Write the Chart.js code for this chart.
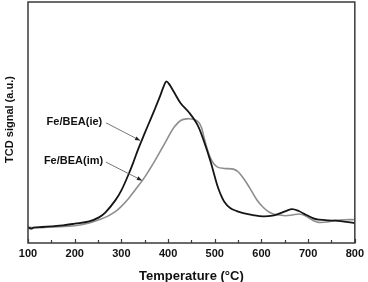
<!DOCTYPE html>
<html>
<head>
<meta charset="utf-8">
<script src="https://cdn.jsdelivr.net/npm/chart.js@4.4.1/dist/chart.umd.min.js"></script>
<style>
    html, body { margin: 0; padding: 0; background: #fff; }
    #wrap { position: relative; width: 368px; height: 282px; }
</style>
</head>
<body>
<div id="wrap"><canvas id="myChart" width="368" height="282"></canvas></div>
<script>
// Fe/BEA(ie) - ion exchanged
const ieTemp = [100, 107, 112, 130, 150, 175, 200, 231, 252, 266, 287, 300, 315, 325, 336, 350, 362, 371, 382, 390, 396,
    402, 412, 427, 445, 463, 477, 491, 505, 512, 520, 533, 547, 561, 582, 603, 624, 638, 652, 666,
    680, 695, 710, 723, 758, 800];
const ieSignal = [47, 43, 46, 48, 50, 53, 58, 65, 77, 92, 128, 158, 205, 240, 282, 330, 370, 400, 438, 468, 485,
    478, 455, 420, 392, 355, 305, 245, 175, 148, 125, 105, 96, 90, 84, 80, 82, 88, 96, 102,
    96, 85, 75, 70, 67, 60];

// Fe/BEA(im) - impregnated
const imTemp = [100, 130, 150, 200, 231, 252, 270, 287, 300, 315, 330, 347, 360, 371, 392, 405, 414, 427, 440, 456,
    466, 472, 477, 484, 491, 498, 506, 520, 540, 550, 561, 575, 590, 603, 615, 624, 638, 652, 666, 680, 692, 702,
    713, 723, 740, 758, 780, 800];
const imSignal = [47, 46, 48, 52, 60, 70, 80, 94, 110, 133, 160, 192, 220, 245, 297, 330, 350, 368, 373, 371,
    362, 345, 318, 282, 255, 238, 228, 224, 222, 214, 195, 165, 130, 108, 94, 88, 84, 82, 84, 87, 83, 75,
    66, 62, 63, 68, 70, 70];

const xTickValues = [100, 200, 300, 400, 500, 600, 700, 800];
const xMinorTicks = [150, 250, 350, 450, 550, 650, 750];

// label text, label anchor (right end) and arrow start/tip, all in data units
const noteLabels = ['Fe/BEA(ie)', 'Fe/BEA(im)'];
const noteAnchor = [[259, 364], [261, 246]];
const noteArrowFrom = [[267, 361], [267, 243]];
const noteArrowTo = [[340, 308], [344, 188]];

function toPoints(xs, ys) {
    return xs.map((x, i) => ({ x: x, y: ys[i] }));
}

const frameAndNotes = {
    id: 'frameAndNotes',
    afterDatasetsDraw(chart) {
        const ctx = chart.ctx;
        const a = chart.chartArea;
        const xs = chart.scales.x;
        const ys = chart.scales.y;
        ctx.save();

        // frame
        ctx.strokeStyle = '#3a3a3a';
        ctx.lineWidth = 1.5;
        ctx.strokeRect(a.left, a.top, a.right - a.left, a.bottom - a.top);

        // inner ticks on the bottom axis
        ctx.lineWidth = 1.2;
        ctx.beginPath();
        xTickValues.forEach(v => {
            const px = Math.round(xs.getPixelForValue(v)) + 0.5;
            ctx.moveTo(px, a.bottom);
            ctx.lineTo(px, a.bottom - 4);
        });
        xMinorTicks.forEach(v => {
            const px = Math.round(xs.getPixelForValue(v)) + 0.5;
            ctx.moveTo(px, a.bottom);
            ctx.lineTo(px, a.bottom - 3);
        });
        ctx.stroke();

        // annotations with arrows
        ctx.font = 'bold 11px "Liberation Sans", Arial, sans-serif';
        ctx.fillStyle = '#111';
        ctx.textAlign = 'right';
        ctx.textBaseline = 'middle';
        noteLabels.forEach((txt, i) => {
            ctx.fillText(txt, xs.getPixelForValue(noteAnchor[i][0]), ys.getPixelForValue(noteAnchor[i][1]));
            const x0 = xs.getPixelForValue(noteArrowFrom[i][0]);
            const y0 = ys.getPixelForValue(noteArrowFrom[i][1]);
            const x1 = xs.getPixelForValue(noteArrowTo[i][0]);
            const y1 = ys.getPixelForValue(noteArrowTo[i][1]);
            ctx.strokeStyle = '#555';
            ctx.lineWidth = 0.8;
            ctx.beginPath();
            ctx.moveTo(x0, y0);
            ctx.lineTo(x1, y1);
            ctx.stroke();
            const ang = Math.atan2(y1 - y0, x1 - x0);
            const len = 5, wid = 2;
            ctx.fillStyle = '#222';
            ctx.beginPath();
            ctx.moveTo(x1, y1);
            ctx.lineTo(x1 - len * Math.cos(ang) + wid * Math.sin(ang), y1 - len * Math.sin(ang) - wid * Math.cos(ang));
            ctx.lineTo(x1 - len * Math.cos(ang) - wid * Math.sin(ang), y1 - len * Math.sin(ang) + wid * Math.cos(ang));
            ctx.closePath();
            ctx.fill();
            ctx.fillStyle = '#111';
        });

        // y axis title
        ctx.save();
        ctx.translate(10, (a.top + a.bottom) / 2 - 3);
        ctx.rotate(-Math.PI / 2);
        ctx.textAlign = 'center';
        ctx.font = 'bold 11px "Liberation Sans", Arial, sans-serif';
        ctx.fillStyle = '#111';
        ctx.fillText('TCD signal (a.u.)', 0, 0);
        ctx.restore();

        ctx.restore();
    }
};

const ctx = document.getElementById('myChart').getContext('2d');
new Chart(ctx, {
    type: 'line',
    data: {
        datasets: [
            {
                label: 'Fe/BEA(ie)',
                data: toPoints(ieTemp, ieSignal),
                borderColor: '#151515',
                borderWidth: 1.8,
                pointRadius: 0,
                tension: 0.35
            },
            {
                label: 'Fe/BEA(im)',
                data: toPoints(imTemp, imSignal),
                borderColor: '#8e8e8e',
                borderWidth: 1.6,
                pointRadius: 0,
                tension: 0.35
            }
        ]
    },
    options: {
        responsive: false,
        animation: false,
        layout: { padding: { left: 28, top: 2, right: 8, bottom: 0 } },
        plugins: {
            legend: { display: false },
            tooltip: { enabled: false }
        },
        scales: {
            x: {
                type: 'linear',
                min: 100,
                max: 800,
                afterBuildTicks: (scale) => {
                    scale.ticks = xTickValues.map(v => ({ value: v }));
                },
                afterFit: (scale) => { scale.height = 39; },
                grid: { display: false, drawTicks: false },
                border: { display: false },
                ticks: {
                    color: '#111',
                    padding: 4,
                    maxRotation: 0,
                    autoSkip: false,
                    font: { family: '"Liberation Sans", Arial, sans-serif', size: 11, weight: 'bold' }
                },
                title: {
                    display: true,
                    text: 'Temperature (\u00B0C)',
                    color: '#111',
                    padding: { top: 4, bottom: -2 },
                    font: { family: '"Liberation Sans", Arial, sans-serif', size: 13, weight: 'bold' }
                }
            },
            y: {
                display: false,
                min: 0,
                max: 724
            }
        }
    },
    plugins: [frameAndNotes]
});
</script>
</body>
</html>
